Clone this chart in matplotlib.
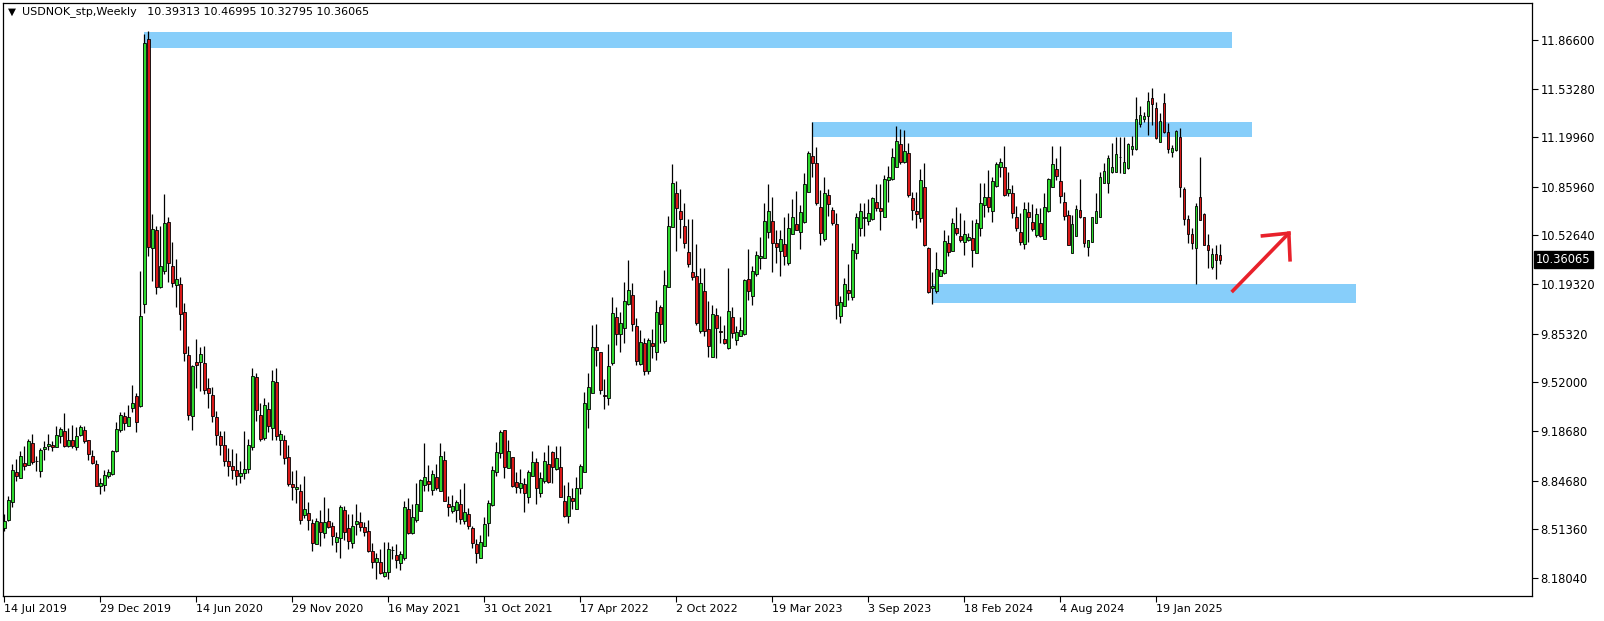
import numpy as np
import matplotlib
matplotlib.use("Agg")
import matplotlib.pyplot as plt

# weekly USDNOK candles, first bar = week of 14 Jul 2019
opens = [
    8.524, 8.577, 8.702, 8.907, 8.864, 8.971, 8.955, 9.108, 8.985, 8.912,
    9.062, 9.085, 9.092, 9.076, 9.154, 9.190, 9.085, 9.126, 9.076, 9.158,
    9.195, 9.126, 9.017, 8.962, 8.809, 8.819, 8.878, 8.896, 9.049, 9.192,
    9.290, 9.222, 9.343, 9.430, 9.356, 10.056, 11.869, 10.439, 10.565, 10.177,
    10.280, 10.620, 10.319, 10.186, 10.195, 10.004, 9.710, 9.288, 9.660, 9.660,
    9.655, 9.482, 9.436, 9.283, 9.156, 9.094, 8.980, 8.950, 8.920, 8.880,
    8.900, 8.930, 9.076, 9.557, 9.299, 9.140, 9.338, 9.208, 9.521, 9.129,
    9.129, 9.010, 8.821, 8.789, 8.773, 8.609, 8.627, 8.554, 8.415, 8.561,
    8.490, 8.572, 8.534, 8.429, 8.454, 8.648, 8.524, 8.420, 8.552, 8.565,
    8.531, 8.504, 8.363, 8.292, 8.287, 8.196, 8.223, 8.369, 8.335, 8.285,
    8.319, 8.654, 8.486, 8.581, 8.638, 8.816, 8.848, 8.784, 8.869, 8.775,
    8.992, 8.684, 8.638, 8.645, 8.689, 8.570, 8.616, 8.520, 8.410, 8.319,
    8.399, 8.559, 8.679, 8.907, 9.037, 9.195, 8.935, 9.010, 8.839, 8.796,
    8.821, 8.734, 8.878, 8.976, 8.764, 8.844, 8.964, 9.040, 8.928, 8.944,
    8.711, 8.604, 8.730, 8.654, 8.798, 8.907, 9.338, 9.448, 9.762, 9.728,
    9.436, 9.414, 9.653, 9.968, 9.851, 9.892, 10.056, 10.120, 9.908, 9.648,
    9.792, 9.600, 9.790, 9.728, 10.036, 9.801, 10.173, 10.588, 10.816, 10.695,
    10.592, 10.412, 10.275, 10.248, 9.869, 10.148, 9.885, 9.694, 9.983, 9.874,
    9.817, 9.755, 9.968, 9.808, 9.840, 9.851, 10.230, 10.109, 10.264, 10.371,
    10.371, 10.547, 10.626, 10.474, 10.423, 10.467, 10.337, 10.535, 10.604, 10.547,
    10.617, 10.827, 11.071, 11.021, 10.720, 10.501, 10.805, 10.702, 10.604, 9.972,
    10.041, 10.155, 10.102, 10.406, 10.577, 10.645, 10.627, 10.638, 10.754, 10.713,
    10.656, 10.907, 10.912, 10.994, 11.153, 11.028, 11.090, 10.782, 10.695, 10.645,
    10.857, 10.440, 10.166, 10.143, 10.251, 10.269, 10.474, 10.417, 10.577, 10.524,
    10.481, 10.497, 10.508, 10.406, 10.577, 10.736, 10.789, 10.695, 10.866, 10.998,
    10.994, 10.816, 10.816, 10.652, 10.549, 10.467, 10.690, 10.617, 10.531, 10.611,
    10.501, 10.697, 10.857, 10.980, 10.900, 10.754, 10.668, 10.405, 10.526, 10.702,
    10.652, 10.451, 10.485, 10.615, 10.656, 10.889, 10.889, 10.964, 10.964, 11.062,
    10.957, 10.987, 11.117, 11.117, 11.288, 11.322, 11.347, 11.466, 11.397, 11.169,
    11.431, 11.238, 11.101, 11.112, 11.199, 10.843, 10.638, 10.535, 10.440, 10.788,
    10.674, 10.462, 10.314, 10.401, 10.39313,
]
highs = [
    8.616, 8.741, 8.962, 8.996, 9.049, 9.083, 9.133, 9.170, 9.015, 9.072,
    9.122, 9.167, 9.122, 9.222, 9.213, 9.313, 9.206, 9.231, 9.213, 9.227,
    9.224, 9.129, 9.060, 8.992, 8.862, 8.917, 8.928, 9.060, 9.252, 9.316,
    9.316, 9.368, 9.500, 9.448, 10.280, 11.910, 11.926, 10.672, 10.592, 10.592,
    10.809, 10.654, 10.480, 10.364, 10.241, 10.063, 9.771, 9.641, 9.819, 9.760,
    9.771, 9.550, 9.486, 9.322, 9.185, 9.185, 9.071, 9.067, 9.037, 8.980,
    9.185, 9.133, 9.619, 9.584, 9.379, 9.413, 9.384, 9.607, 9.619, 9.197,
    9.163, 9.088, 8.910, 8.923, 8.821, 8.878, 8.698, 8.586, 8.593, 8.648,
    8.732, 8.657, 8.563, 8.497, 8.677, 8.673, 8.616, 8.616, 8.684, 8.631,
    8.563, 8.575, 8.417, 8.353, 8.376, 8.426, 8.426, 8.399, 8.410, 8.365,
    8.711, 8.725, 8.684, 8.828, 8.860, 9.106, 8.951, 8.923, 8.964, 9.106,
    9.053, 8.741, 8.746, 8.718, 8.787, 8.832, 8.657, 8.536, 8.445, 8.472,
    8.600, 8.718, 8.946, 9.113, 9.197, 9.195, 9.126, 9.010, 8.907, 8.930,
    8.866, 8.923, 9.053, 9.003, 8.907, 9.042, 9.094, 9.049, 9.083, 9.083,
    8.814, 8.837, 8.798, 8.873, 8.964, 9.455, 9.585, 9.915, 9.920, 9.728,
    9.544, 9.783, 10.102, 10.036, 10.002, 10.205, 10.360, 10.200, 9.961, 9.881,
    9.824, 9.824, 9.888, 10.086, 10.052, 10.291, 10.661, 11.016, 10.900, 10.843,
    10.752, 10.638, 10.638, 10.467, 10.303, 10.303, 10.075, 10.052, 10.029, 9.972,
    9.915, 10.303, 10.040, 9.904, 9.968, 10.227, 10.435, 10.319, 10.417, 10.519,
    10.752, 10.880, 10.793, 10.565, 10.565, 10.656, 10.683, 10.775, 10.832, 10.736,
    10.957, 11.108, 11.302, 11.131, 10.839, 10.925, 10.846, 10.725, 10.679, 10.114,
    10.235, 10.333, 10.474, 10.679, 10.748, 10.752, 10.775, 10.789, 10.880, 10.880,
    10.941, 11.003, 11.124, 11.277, 11.254, 11.249, 11.163, 10.827, 10.827, 10.982,
    11.021, 10.447, 10.276, 10.412, 10.296, 10.561, 10.531, 10.645, 10.720, 10.679,
    10.634, 10.542, 10.634, 10.638, 10.884, 10.889, 10.976, 10.930, 11.033, 11.055,
    11.140, 10.962, 10.873, 10.729, 10.679, 10.759, 10.759, 10.743, 10.718, 10.718,
    10.816, 10.918, 11.142, 11.055, 11.140, 10.823, 10.702, 10.668, 10.736, 10.914,
    10.656, 10.497, 10.656, 10.816, 10.964, 11.021, 11.078, 11.158, 11.203, 11.203,
    11.203, 11.158, 11.208, 11.477, 11.413, 11.374, 11.511, 11.534, 11.443, 11.363,
    11.500, 11.295, 11.146, 11.249, 11.260, 10.861, 10.668, 10.576, 10.747, 11.062,
    10.679, 10.538, 10.440, 10.462, 10.46995,
]
lows = [
    8.500, 8.570, 8.666, 8.848, 8.864, 8.923, 8.951, 8.960, 8.912, 8.871,
    8.992, 9.060, 9.047, 9.076, 9.106, 9.081, 9.076, 9.072, 9.060, 9.156,
    9.106, 8.992, 8.958, 8.809, 8.757, 8.775, 8.862, 8.889, 9.042, 9.179,
    9.197, 9.220, 9.316, 9.179, 9.350, 9.995, 10.389, 10.216, 10.125, 10.166,
    10.262, 10.205, 10.177, 10.034, 9.876, 9.664, 9.261, 9.197, 9.482, 9.459,
    9.441, 9.345, 9.249, 9.090, 9.026, 8.950, 8.880, 8.860, 8.820, 8.830,
    8.860, 8.900, 9.060, 9.254, 9.122, 9.129, 9.181, 9.129, 9.129, 9.026,
    8.964, 8.809, 8.714, 8.693, 8.547, 8.593, 8.506, 8.363, 8.415, 8.399,
    8.454, 8.524, 8.408, 8.358, 8.317, 8.438, 8.381, 8.388, 8.474, 8.502,
    8.467, 8.358, 8.249, 8.171, 8.205, 8.189, 8.171, 8.308, 8.249, 8.235,
    8.303, 8.483, 8.479, 8.563, 8.638, 8.775, 8.775, 8.752, 8.782, 8.775,
    8.707, 8.604, 8.627, 8.563, 8.552, 8.547, 8.513, 8.388, 8.283, 8.319,
    8.399, 8.467, 8.673, 8.878, 9.003, 8.866, 8.935, 8.805, 8.764, 8.764,
    8.632, 8.695, 8.878, 8.684, 8.736, 8.832, 8.828, 8.832, 8.923, 8.736,
    8.597, 8.559, 8.650, 8.650, 8.757, 8.907, 9.209, 9.448, 9.630, 9.441,
    9.338, 9.368, 9.637, 9.778, 9.726, 9.790, 10.052, 9.869, 9.642, 9.642,
    9.570, 9.580, 9.687, 9.676, 9.790, 9.790, 10.173, 10.583, 10.421, 10.508,
    10.439, 10.314, 10.223, 9.915, 9.858, 9.840, 9.694, 9.694, 9.687, 9.790,
    9.785, 9.749, 9.824, 9.778, 9.835, 9.847, 10.086, 10.052, 10.246, 10.296,
    10.371, 10.508, 10.273, 10.337, 10.246, 10.325, 10.325, 10.535, 10.565, 10.433,
    10.610, 10.827, 10.930, 10.736, 10.462, 10.492, 10.661, 10.599, 9.954, 9.927,
    10.041, 10.082, 10.082, 10.367, 10.520, 10.520, 10.599, 10.634, 10.691, 10.565,
    10.656, 10.759, 10.907, 10.994, 11.017, 11.026, 10.789, 10.634, 10.577, 10.622,
    10.456, 10.132, 10.059, 10.132, 10.246, 10.264, 10.383, 10.417, 10.531, 10.485,
    10.390, 10.492, 10.310, 10.406, 10.524, 10.656, 10.684, 10.622, 10.857, 10.930,
    10.798, 10.798, 10.645, 10.554, 10.462, 10.433, 10.485, 10.554, 10.519, 10.519,
    10.501, 10.690, 10.857, 10.907, 10.747, 10.633, 10.458, 10.405, 10.526, 10.645,
    10.451, 10.383, 10.485, 10.615, 10.656, 10.884, 10.820, 10.957, 10.959, 10.953,
    10.953, 10.982, 11.078, 11.112, 11.272, 11.306, 11.215, 11.283, 11.185, 11.169,
    11.226, 11.089, 11.067, 11.108, 10.793, 10.599, 10.474, 10.433, 10.193, 10.633,
    10.458, 10.303, 10.298, 10.230, 10.32795,
]
closes = [
    8.570, 8.718, 8.917, 8.878, 9.019, 8.946, 9.122, 8.974, 8.985, 9.060,
    9.081, 9.101, 9.076, 9.163, 9.204, 9.085, 9.126, 9.085, 9.154, 9.218,
    9.122, 9.031, 8.969, 8.809, 8.832, 8.887, 8.907, 9.047, 9.202, 9.300,
    9.240, 9.284, 9.379, 9.247, 9.977, 11.848, 10.451, 10.569, 10.177, 10.319,
    10.610, 10.335, 10.200, 10.227, 9.988, 9.721, 9.295, 9.635, 9.639, 9.717,
    9.466, 9.448, 9.288, 9.158, 9.090, 8.980, 8.950, 8.920, 8.880, 8.900,
    8.930, 9.094, 9.566, 9.329, 9.133, 9.368, 9.220, 9.532, 9.151, 9.167,
    9.003, 8.821, 8.805, 8.807, 8.579, 8.650, 8.577, 8.422, 8.572, 8.497,
    8.561, 8.531, 8.470, 8.463, 8.670, 8.495, 8.433, 8.538, 8.572, 8.531,
    8.497, 8.365, 8.292, 8.319, 8.214, 8.223, 8.381, 8.372, 8.306, 8.342,
    8.668, 8.490, 8.600, 8.684, 8.853, 8.869, 8.825, 8.894, 8.798, 9.019,
    8.707, 8.666, 8.675, 8.702, 8.586, 8.634, 8.536, 8.420, 8.351, 8.429,
    8.552, 8.695, 8.917, 9.044, 9.181, 8.939, 9.051, 8.809, 8.805, 8.832,
    8.764, 8.907, 8.976, 8.798, 8.866, 8.983, 8.837, 8.942, 9.003, 8.736,
    8.604, 8.743, 8.707, 8.798, 8.948, 9.379, 9.489, 9.762, 9.740, 9.466,
    9.430, 9.630, 9.995, 9.851, 9.927, 10.079, 10.154, 9.922, 9.664, 9.797,
    9.600, 9.812, 9.767, 10.002, 9.922, 10.189, 10.594, 10.884, 10.713, 10.638,
    10.474, 10.330, 10.241, 9.926, 10.202, 9.869, 9.767, 9.988, 9.892, 9.863,
    9.790, 10.006, 9.858, 9.865, 9.881, 10.223, 10.143, 10.284, 10.394, 10.387,
    10.626, 10.695, 10.478, 10.451, 10.501, 10.387, 10.581, 10.656, 10.565, 10.686,
    10.877, 11.089, 11.021, 10.752, 10.542, 10.816, 10.741, 10.615, 10.048, 10.070,
    10.194, 10.132, 10.428, 10.650, 10.695, 10.652, 10.679, 10.782, 10.718, 10.697,
    10.912, 10.925, 11.062, 11.176, 11.033, 11.108, 10.805, 10.702, 10.672, 10.907,
    10.463, 10.137, 10.178, 10.296, 10.287, 10.490, 10.410, 10.611, 10.542, 10.497,
    10.536, 10.515, 10.428, 10.611, 10.748, 10.789, 10.720, 10.900, 11.017, 11.030,
    10.804, 10.843, 10.679, 10.576, 10.485, 10.706, 10.656, 10.570, 10.672, 10.526,
    10.720, 10.912, 11.014, 10.937, 10.800, 10.663, 10.458, 10.604, 10.706, 10.656,
    10.478, 10.494, 10.652, 10.695, 10.925, 10.969, 11.055, 10.994, 11.083, 11.067,
    11.030, 11.151, 11.140, 11.322, 11.349, 11.345, 11.447, 11.427, 11.192, 11.313,
    11.238, 11.117, 11.124, 11.244, 10.857, 10.638, 10.535, 10.474, 10.731, 10.633,
    10.462, 10.428, 10.401, 10.360, 10.36065,
]

date_labels = ["14 Jul 2019", "29 Dec 2019", "14 Jun 2020", "29 Nov 2020",
               "16 May 2021", "31 Oct 2021", "17 Apr 2022", "2 Oct 2022",
               "19 Mar 2023", "3 Sep 2023", "18 Feb 2024", "4 Aug 2024",
               "19 Jan 2025"]
weeks_per_label = 24
price_ticks = [11.866, 11.5328, 11.1996, 10.8596, 10.5264, 10.1932,
               9.8532, 9.52, 9.1868, 8.8468, 8.5136, 8.1804]

# horizontal zones drawn on the chart (bar index from/to, price low/high)
zone_start = [35.0, 202.1, 232.1]
zone_end = [306.9, 311.9, 337.9]
zone_low = [11.812, 11.203, 10.064]
zone_high = [11.921, 11.303, 10.196]

# hand drawn arrow: tail, tip, two head strokes (bar index, price)
arrow_x = [306.9, 321.2]
arrow_y = [10.139, 10.542]
head1_x, head1_y = [314.6, 321.2], [10.524, 10.542]
head2_x, head2_y = [321.2, 321.5], [10.542, 10.360]

header = "USDNOK_stp,Weekly   10.39313 10.46995 10.32795 10.36065"
last_price = closes[-1]

o = np.array(opens)
h = np.array(highs)
l = np.array(lows)
c = np.array(closes)
x = np.arange(len(o))

fig = plt.figure(figsize=(16.04, 6.21), dpi=100)
ax = fig.add_axes([3 / 1604, 25 / 621, 1529 / 1604, 593 / 621])

bull = "#2ED82E"
bear = "#D81818"
up = c >= o
colors = np.where(up, bull, bear)

for xs, xe, lo, hi in zip(zone_start, zone_end, zone_low, zone_high):
    ax.fill_between([xs, xe], lo, hi, color="#87CEFA", lw=0, zorder=1)

ax.vlines(x, l, h, color="black", lw=0.9, zorder=2)
ax.bar(x, np.abs(c - o), bottom=np.minimum(o, c), width=0.72, color=colors,
       edgecolor="black", linewidth=0.6, zorder=3)

red = "#E8212B"
ax.plot(arrow_x, arrow_y, color=red, lw=2.6, solid_capstyle="butt", zorder=4)
ax.plot(head1_x, head1_y, color=red, lw=2.6, zorder=4)
ax.plot(head2_x, head2_y, color=red, lw=2.6, zorder=4)

ax.set_xlim(-0.3, 382.0)
ax.set_ylim(8.057, 12.119)

ax.yaxis.tick_right()
ax.set_yticks(price_ticks)
ax.set_yticklabels([f"{v:.5f}" for v in price_ticks])
ax.set_xticks(np.arange(len(date_labels)) * weeks_per_label)
ax.set_xticklabels(date_labels, ha="left")
ax.tick_params(axis="y", direction="out", length=4, width=0.8, labelsize=8.3, pad=2)
ax.tick_params(axis="x", direction="out", length=4, width=0.8, labelsize=8, pad=2)
for s in ax.spines.values():
    s.set_linewidth(0.9)

ax.annotate(f"{last_price:.5f}", xy=(1.0, last_price),
            xycoords=("axes fraction", "data"), xytext=(3, 0),
            textcoords="offset points", va="center", ha="left",
            fontsize=8.3, color="white",
            bbox=dict(boxstyle="square,pad=0.15", fc="black", ec="black"))

ax.text(0.0035, 0.985, "\u25bc", transform=ax.transAxes, fontsize=7.5,
        va="center", ha="left")
ax.text(0.0125, 0.985, header, transform=ax.transAxes, fontsize=8,
        va="center", ha="left")

fig.savefig("out.png", dpi=100)
